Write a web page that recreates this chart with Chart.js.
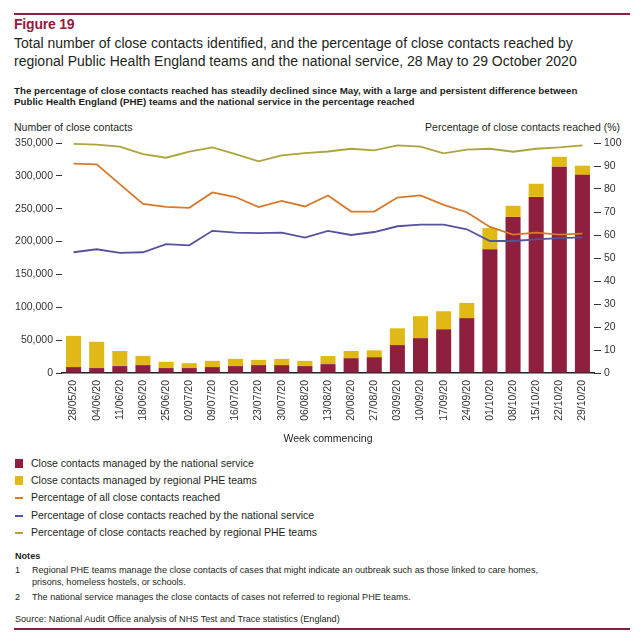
<!DOCTYPE html>
<html>
<head>
<meta charset="utf-8">
<script src="https://cdn.jsdelivr.net/npm/chart.js@4.4.0/dist/chart.umd.min.js"></script>
<style>
  body { margin: 0; background: #fff; font-family: "Liberation Sans", Arial, sans-serif; color: #231f20; }
  #page { position: relative; width: 642px; height: 643px; overflow: hidden; }
  .abs { position: absolute; white-space: nowrap; }
  .rule { position: absolute; left: 14px; width: 616px; height: 1.5px; background: #8c1d40; }
  #fig { left: 14px; top: 16px; font-size: 14px; font-weight: bold; color: #941c40; letter-spacing: -0.2px; }
  #title { left: 14px; top: 35px; font-size: 14px; line-height: 17.5px; }
  #sub { left: 14px; top: 85px; font-size: 9.75px; line-height: 11px; font-weight: bold; }
  .axt { font-size: 10.5px; top: 121px; }
  #chart { position: absolute; left: 0; top: 133px; }
  #xt { left: 0; width: 656px; text-align: center; top: 432px; font-size: 10.5px; }
  #legend { left: 15px; top: 455px; font-size: 10.5px; }
  #legend div { height: 17.2px; line-height: 17.2px; position: relative; padding-left: 16px; }
  #legend span { position: absolute; left: 0; }
  #notes { left: 15px; top: 550px; font-size: 9.1px; line-height: 12px; }
  #notes .n { position: relative; padding-left: 17px; }
  #notes .n b { position: absolute; left: 0; font-weight: normal; }
</style>
</head>
<body>
<div id="page">
  <div class="rule" style="top:13px"></div>
  <div class="abs" id="fig">Figure 19</div>
  <div class="abs" id="title">Total number of close contacts identified, and the percentage of close contacts reached by<br>regional Public Health England teams and the national service, 28 May to 29 October 2020</div>
  <div class="abs" id="sub">The percentage of close contacts reached has steadily declined since May, with a large and persistent difference between<br>Public Health England (PHE) teams and the national service in the percentage reached</div>
  <div class="abs axt" style="left:14px">Number of close contacts</div>
  <div class="abs axt" style="right:22px">Percentage of close contacts reached (%)</div>
  <canvas id="chart" width="642" height="300"></canvas>
  <div class="abs" id="xt">Week commencing</div>
  <div class="abs" id="legend"></div>
  <div class="abs" id="notes">
    <div style="font-weight:bold">Notes</div>
    <div class="n" style="margin-top:2px"><b>1</b>Regional PHE teams manage the close contacts of cases that might indicate an outbreak such as those linked to care homes,<br>prisons, homeless hostels, or schools.</div>
    <div class="n" style="margin-top:3px"><b>2</b>The national service manages the close contacts of cases not referred to regional PHE teams.</div>
    <div style="margin-top:10px">Source: National Audit Office analysis of NHS Test and Trace statistics (England)</div>
  </div>
  <div class="rule" style="top:628px"></div>
</div>
<script>
let weeks = ["28/05/20", "04/06/20", "11/06/20", "18/06/20", "25/06/20", "02/07/20", "09/07/20", "16/07/20",
  "23/07/20", "30/07/20", "06/08/20", "13/08/20", "20/08/20", "27/08/20", "03/09/20", "10/09/20", "17/09/20",
  "24/09/20", "01/10/20", "08/10/20", "15/10/20", "22/10/20", "29/10/20"];

// close contacts (left axis)
let national = [9000, 7500, 10500, 12000, 7500, 7500, 9000, 10500, 12000, 12000, 10500, 13500, 22500, 24000,
  42500, 53000, 66500, 83500, 188500, 237500, 268000, 314000, 301500];
let regional = [47500, 40000, 23000, 14000, 9500, 7500, 9500, 11000, 8000, 9500, 8000, 12500, 11000, 10500,
  25500, 33500, 27500, 23000, 32000, 17000, 20000, 15000, 14000];

// percentage reached (right axis)
let pctAll = [91.0, 90.7, 82.1, 73.5, 72.2, 71.8, 78.5, 76.5, 72.1, 74.8, 72.4, 77.2, 70.2, 70.2, 76.3, 77.2,
  73.1, 69.9, 63.5, 60.2, 61.0, 60.2, 60.6];
let pctNational = [52.5, 53.8, 52.2, 52.5, 56.0, 55.5, 61.8, 61.0, 60.8, 61.0, 58.9, 61.8, 60.0, 61.3, 63.8, 64.5,
  64.5, 62.5, 57.4, 57.4, 58.1, 58.6, 59.0];
let pctRegional = [99.6, 99.3, 98.4, 95.2, 93.6, 96.3, 98.1, 95.2, 92.0, 94.6, 95.6, 96.3, 97.5, 96.8, 99.0, 98.4,
  95.5, 97.1, 97.5, 96.2, 97.5, 98.1, 99.0];

let names = ["Close contacts managed by the national service", "Close contacts managed by regional PHE teams",
  "Percentage of all close contacts reached", "Percentage of close contacts reached by the national service",
  "Percentage of close contacts reached by regional PHE teams"];
let colours = ["#8e1f3e", "#e0b916", "#d8782b", "#55529f", "#aba53c"];

let tickFont = { family: "Liberation Sans", size: 10.5 };

function lineSet(i, data) {
  return { type: 'line', label: names[i], data: data, yAxisID: 'y1', borderColor: colours[i],
    borderWidth: 1.8, pointRadius: 0, tension: 0, order: 0 };
}

let ctx = document.getElementById('chart').getContext('2d');
let chart = new Chart(ctx, {
  type: 'bar',
  data: {
    labels: weeks,
    datasets: [
      { label: names[0], data: national, backgroundColor: colours[0], yAxisID: 'y', order: 1,
        barPercentage: 0.65, categoryPercentage: 1 },
      { label: names[1], data: regional, backgroundColor: colours[1], yAxisID: 'y', order: 1,
        barPercentage: 0.65, categoryPercentage: 1 },
      lineSet(2, pctAll),
      lineSet(3, pctNational),
      lineSet(4, pctRegional)
    ]
  },
  options: {
    responsive: false,
    animation: false,
    layout: { padding: { top: 10, left: 0, right: 0, bottom: 0 } },
    plugins: { legend: { display: false }, tooltip: { enabled: false } },
    scales: {
      x: {
        stacked: true,
        grid: { display: false, drawTicks: false },
        border: { display: true, color: '#222', width: 1.5 },
        ticks: { font: tickFont, color: '#333', minRotation: 90, maxRotation: 90, padding: 7, autoSkip: false },
        afterFit: s => { s.height = 60; }
      },
      y: {
        stacked: true, position: 'left', min: 0, max: 350000,
        grid: { drawOnChartArea: false, drawTicks: true, tickLength: 6, color: '#333', lineWidth: 1 },
        border: { display: false },
        ticks: { stepSize: 50000, font: tickFont, color: '#333', padding: 3 },
        afterFit: s => { s.width = 62; }
      },
      y1: {
        position: 'right', min: 0, max: 100,
        grid: { drawOnChartArea: false, drawTicks: true, tickLength: 7, color: '#333', lineWidth: 1 },
        border: { display: false },
        ticks: { stepSize: 10, font: tickFont, color: '#333', padding: 3 },
        afterFit: s => { s.width = 48; }
      }
    }
  }
});

// legend built from the datasets
let leg = document.getElementById('legend');
chart.data.datasets.forEach(function (ds, i) {
  let row = document.createElement('div');
  let sw = document.createElement('span');
  if (ds.type === 'line') {
    sw.style.cssText = 'top:8px;width:8px;height:2px;background:' + ds.borderColor;
  } else {
    sw.style.cssText = 'top:4px;width:8px;height:9px;background:' + ds.backgroundColor;
  }
  row.appendChild(sw);
  row.appendChild(document.createTextNode(ds.label));
  leg.appendChild(row);
});
</script>
</body>
</html>
